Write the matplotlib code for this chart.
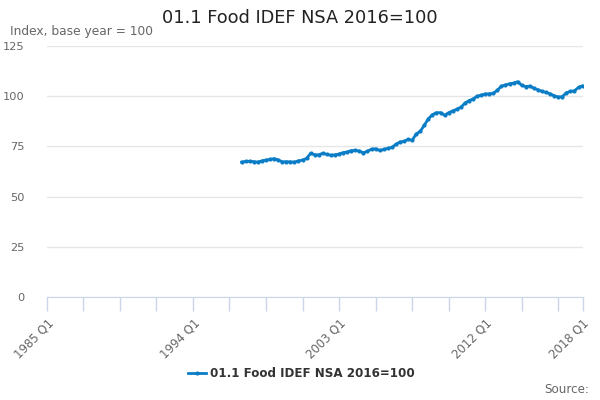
import matplotlib
matplotlib.use("Agg")
import matplotlib.pyplot as plt
import numpy as np

# quarterly categories 1985 Q1 .. 2018 Q1
years = np.repeat(np.arange(1985, 2019), 4)
qtrs = np.tile([1, 2, 3, 4], 34)
categories = [f"{y} Q{q}" for y, q in zip(years, qtrs)][:133]

# series starts at 1997 Q1
start_label = "1997 Q1"
food_idx = [
    67.2, 67.5, 67.6, 67.4, 67.2, 67.8, 68.2, 68.5, 68.9, 68.3,
    67.3, 67.4, 67.3, 67.2, 67.8, 68.2, 69.0, 71.6, 70.8, 70.8,
    71.6, 71.0, 70.6, 70.8, 71.2, 71.9, 72.2, 72.9, 73.0, 72.7,
    71.8, 72.6, 73.6, 73.8, 73.0, 73.5, 74.0, 74.5, 76.0, 77.2,
    77.5, 78.5, 78.0, 81.2, 82.5, 85.5, 88.8, 90.8, 91.8, 91.8,
    90.5, 91.8, 92.7, 93.5, 94.5, 96.5, 97.8, 98.6, 100.0, 100.5,
    101.1, 101.2, 101.4, 103.0, 105.0, 105.6, 106.2, 106.5, 107.2, 105.4,
    104.8, 105.0, 104.0, 103.2, 102.4, 101.9, 101.2, 100.2, 99.6, 99.8,
    101.7, 102.4, 102.7, 104.4, 105.2,
]
label_cats = ["1985 Q1", "1994 Q1", "2003 Q1", "2012 Q1", "2018 Q1"]
y_ticks = [0, 25, 50, 75, 100, 125]

blue = "#0a7dc6"
grey = "#666666"
axis_col = "#ccd6eb"

fig = plt.figure(figsize=(6, 4), dpi=100)
ax = fig.add_axes([0.078, 0.2575, 0.893, 0.6275])

x0 = categories.index(start_label)
xs = np.arange(x0, x0 + len(food_idx))
ax.plot(xs, food_idx, color=blue, lw=2, marker="o", ms=3,
        markerfacecolor=blue, markeredgewidth=0)

ax.set_xlim(0, len(categories) - 1)
ax.set_ylim(0, 125)
ax.set_yticks(y_ticks)
ax.set_yticklabels([str(v) for v in y_ticks], color=grey, fontsize=8.2)
ax.tick_params(axis="y", length=0, pad=16)
ax.grid(axis="y", color="#e6e6e6", lw=1)
ax.set_axisbelow(True)

tick_pos = list(range(0, len(categories), 9)) + [len(categories) - 1]
ax.set_xticks(tick_pos, minor=True)
ax.set_xticks([categories.index(c) for c in label_cats])
ax.set_xticklabels(label_cats, rotation=45, ha="right", rotation_mode="anchor",
                   color=grey, fontsize=8.4)
ax.tick_params(axis="x", which="both", length=10, color=axis_col, width=1, pad=4)

for s in ["top", "right", "left"]:
    ax.spines[s].set_visible(False)
ax.spines["bottom"].set_color(axis_col)

fig.text(0.5, 0.955, "01.1 Food IDEF NSA 2016=100", ha="center", va="center",
         fontsize=12.8, color="#222222")
fig.text(0.017, 0.92, "Index, base year = 100", ha="left", va="center",
         fontsize=8.8, color=grey)

# legend
lx, ly = 0.313, 0.067
fig.add_artist(plt.Line2D([lx, lx + 0.03], [ly, ly], transform=fig.transFigure,
                          color=blue, lw=2))
fig.add_artist(plt.Line2D([lx + 0.015], [ly], transform=fig.transFigure,
                          color=blue, marker="o", ms=3, markeredgewidth=0))
fig.text(lx + 0.037, ly, "01.1 Food IDEF NSA 2016=100", ha="left", va="center",
         fontsize=8.6, fontweight="bold", color="#333333")
fig.text(0.982, 0.027, "Source:", ha="right", va="center", fontsize=8.6, color=grey)

fig.savefig("out.png", dpi=100)
